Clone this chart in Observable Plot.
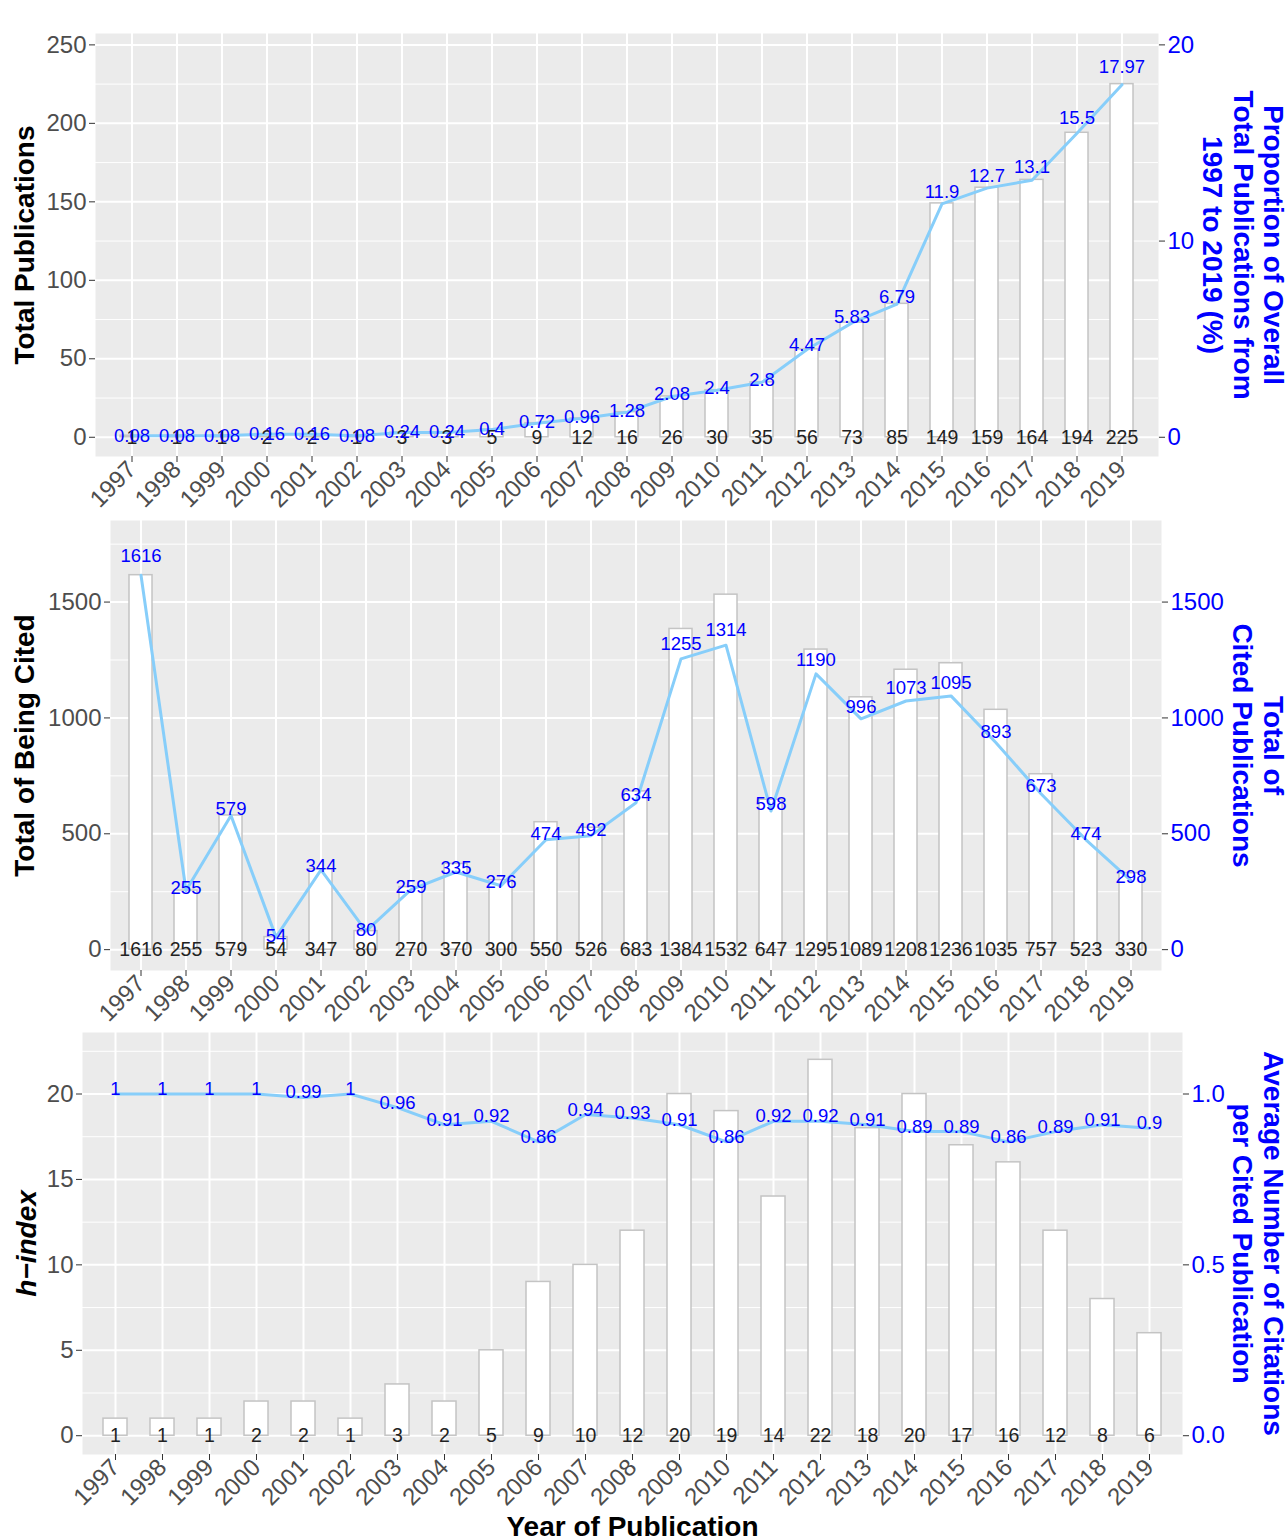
<!DOCTYPE html>
<html>
<head>
<meta charset="utf-8">
<script src="https://cdn.jsdelivr.net/npm/d3@7"></script>
<script src="https://cdn.jsdelivr.net/npm/@observablehq/plot@0.6"></script>
<style>
  html, body { margin: 0; padding: 0; background: white; }
  #chart { position: relative; width: 1287px; height: 1540px; font-family: "Liberation Sans", Arial, sans-serif; }
  #chart svg { position: absolute; left: 0; overflow: visible; }
</style>
</head>
<body>
<div id="chart"></div>
<script>
// ---------- data ----------
const years = ["1997","1998","1999","2000","2001","2002","2003","2004","2005","2006","2007","2008","2009","2010","2011","2012","2013","2014","2015","2016","2017","2018","2019"];
const totalPublications = [1,1,1,2,2,1,3,3,5,9,12,16,26,30,35,56,73,85,149,159,164,194,225];
const proportionPct = [0.08,0.08,0.08,0.16,0.16,0.08,0.24,0.24,0.4,0.72,0.96,1.28,2.08,2.4,2.8,4.47,5.83,6.79,11.9,12.7,13.1,15.5,17.97];
const totalBeingCited = [1616,255,579,54,347,80,270,370,300,550,526,683,1384,1532,647,1295,1089,1208,1236,1035,757,523,330];
const totalCitedPublications = [1616,255,579,54,344,80,259,335,276,474,492,634,1255,1314,598,1190,996,1073,1095,893,673,474,298];
const hIndex = [1,1,1,2,2,1,3,2,5,9,10,12,20,19,14,22,18,20,17,16,12,8,6];
const avgCitationsPerCited = [1,1,1,1,0.99,1,0.96,0.91,0.92,0.86,0.94,0.93,0.91,0.86,0.92,0.92,0.91,0.89,0.89,0.86,0.89,0.91,0.9];

const rightTicks1 = [0, 10, 20];
const rightTicks2 = [0, 500, 1000, 1500];
const rightTicks3 = [0, 0.5, 1.0];

// ---------- helpers ----------
const FONT = "Liberation Sans, Arial, Helvetica, sans-serif";
const chart = document.getElementById("chart");

function panel(cfg) {
  const data = years.map((y, i) => ({year: y, bar: cfg.bars[i], line: cfg.line[i]}));
  const f = cfg.factor;
  const marks = [
    Plot.frame({fill: "#ebebeb", stroke: null}),
    Plot.gridY(cfg.minor, {stroke: "white", strokeOpacity: 1, strokeWidth: 1}),
    Plot.gridY(cfg.major, {stroke: "white", strokeOpacity: 1, strokeWidth: 2}),
    Plot.gridX(years, {stroke: "white", strokeOpacity: 1, strokeWidth: 2}),
    Plot.barY(data, {x: "year", y: "bar", fill: "white", stroke: "#c4c4c4", strokeWidth: 1.5}),
    Plot.line(data, {x: "year", y: d => d.line * f, stroke: "#87CEFA", strokeWidth: 3}),
    Plot.text(data, {x: "year", y: d => 0, text: d => String(d.bar), fill: "#222", fontSize: 19.5, lineAnchor: "middle"}),
    Plot.text(data, {x: "year", y: d => d.line * f * cfg.textMult, text: d => String(d.line), fill: "blue", fontSize: 18.5, lineAnchor: cfg.blueAnchor, dy: cfg.blueDy}),
    Plot.axisY(cfg.major, {anchor: "left", tickFormat: v => String(v), fontSize: 24, fill: "#4d4d4d", stroke: "#333", tickSize: 6, tickPadding: 3, label: null}),
    Plot.axisY(cfg.rightTicks.map(v => v * f), {anchor: "right", tickFormat: (v, i) => cfg.rightFormat(cfg.rightTicks[i]), fontSize: 24, fill: "blue", stroke: "#333", tickSize: 6, tickPadding: 3, label: null}),
    Plot.axisX({anchor: "bottom", tickRotate: -45, fontSize: 24, fill: "#4d4d4d", stroke: "#333", tickSize: 6, tickPadding: 3, label: null}),
    Plot.text([cfg.leftTitle], {text: d => d, frameAnchor: "left", dx: cfg.leftDx, rotate: -90, textAnchor: "middle", lineAnchor: "middle", fontSize: 28, fontWeight: "bold", fontStyle: cfg.leftItalic ? "italic" : "normal", fill: "black"}),
    Plot.text([cfg.rightTitle], {text: d => d, frameAnchor: "right", dx: cfg.rightDx, rotate: 90, textAnchor: "middle", lineAnchor: "middle", lineHeight: 1.1, fontSize: 28, fontWeight: "bold", fill: "blue"})
  ];
  if (cfg.xTitle) {
    marks.push(Plot.text([cfg.xTitle], {text: d => d, frameAnchor: "bottom", dy: cfg.xTitleDy, textAnchor: "middle", lineAnchor: "middle", fontSize: 28, fontWeight: "bold", fill: "black"}));
  }
  const svg = Plot.plot({
    width: 1287,
    height: cfg.height,
    marginTop: cfg.mt, marginBottom: cfg.mb, marginLeft: cfg.ml, marginRight: cfg.mr,
    style: {fontFamily: FONT, background: "transparent", overflow: "visible"},
    x: {type: "band", domain: years, paddingInner: 0.5, paddingOuter: 0.35, align: 0.5, axis: null},
    y: {domain: cfg.domain, axis: null},
    marks
  });
  svg.style.top = cfg.top + "px";
  chart.appendChild(svg);
}

// Panel 1
panel({
  top: 0, height: 515, mt: 33, mb: 59, ml: 95, mr: 129,
  bars: totalPublications, line: proportionPct, factor: 12.5, textMult: 1.05,
  blueAnchor: "middle", blueDy: 0,
  domain: [-12.25, 257.25],
  major: [0, 50, 100, 150, 200, 250],
  minor: [25, 75, 125, 175, 225],
  rightTicks: rightTicks1, rightFormat: v => String(v),
  leftTitle: "Total Publications", leftDx: -70,
  rightTitle: "Proportion of Overall\nTotal Publications from\n1997 to 2019 (%)", rightDx: 85
});

// Panel 2
panel({
  top: 515, height: 510, mt: 5, mb: 55, ml: 110, mr: 126,
  bars: totalBeingCited, line: totalCitedPublications, factor: 1, textMult: 1.05,
  blueAnchor: "middle", blueDy: 0,
  domain: [-90, 1852],
  major: [0, 500, 1000, 1500],
  minor: [250, 750, 1250, 1750],
  rightTicks: rightTicks2, rightFormat: v => String(v),
  leftTitle: "Total of Being Cited", leftDx: -85,
  rightTitle: "Total of\nCited Publications", rightDx: 97
});

// Panel 3
panel({
  top: 1025, height: 515, mt: 7, mb: 86, ml: 82, mr: 105,
  bars: hIndex, line: avgCitationsPerCited, factor: 20, textMult: 1,
  blueAnchor: "bottom", blueDy: 1,
  domain: [-1.1, 23.6],
  major: [0, 5, 10, 15, 20],
  minor: [2.5, 7.5, 12.5, 17.5, 22.5],
  rightTicks: rightTicks3, rightFormat: v => v.toFixed(1),
  leftTitle: "h\u2212index", leftItalic: true, leftDx: -55,
  rightTitle: "Average Number of Citations\nper Cited Publication", rightDx: 76,
  xTitle: "Year of Publication", xTitleDy: 73
});
</script>
</body>
</html>
